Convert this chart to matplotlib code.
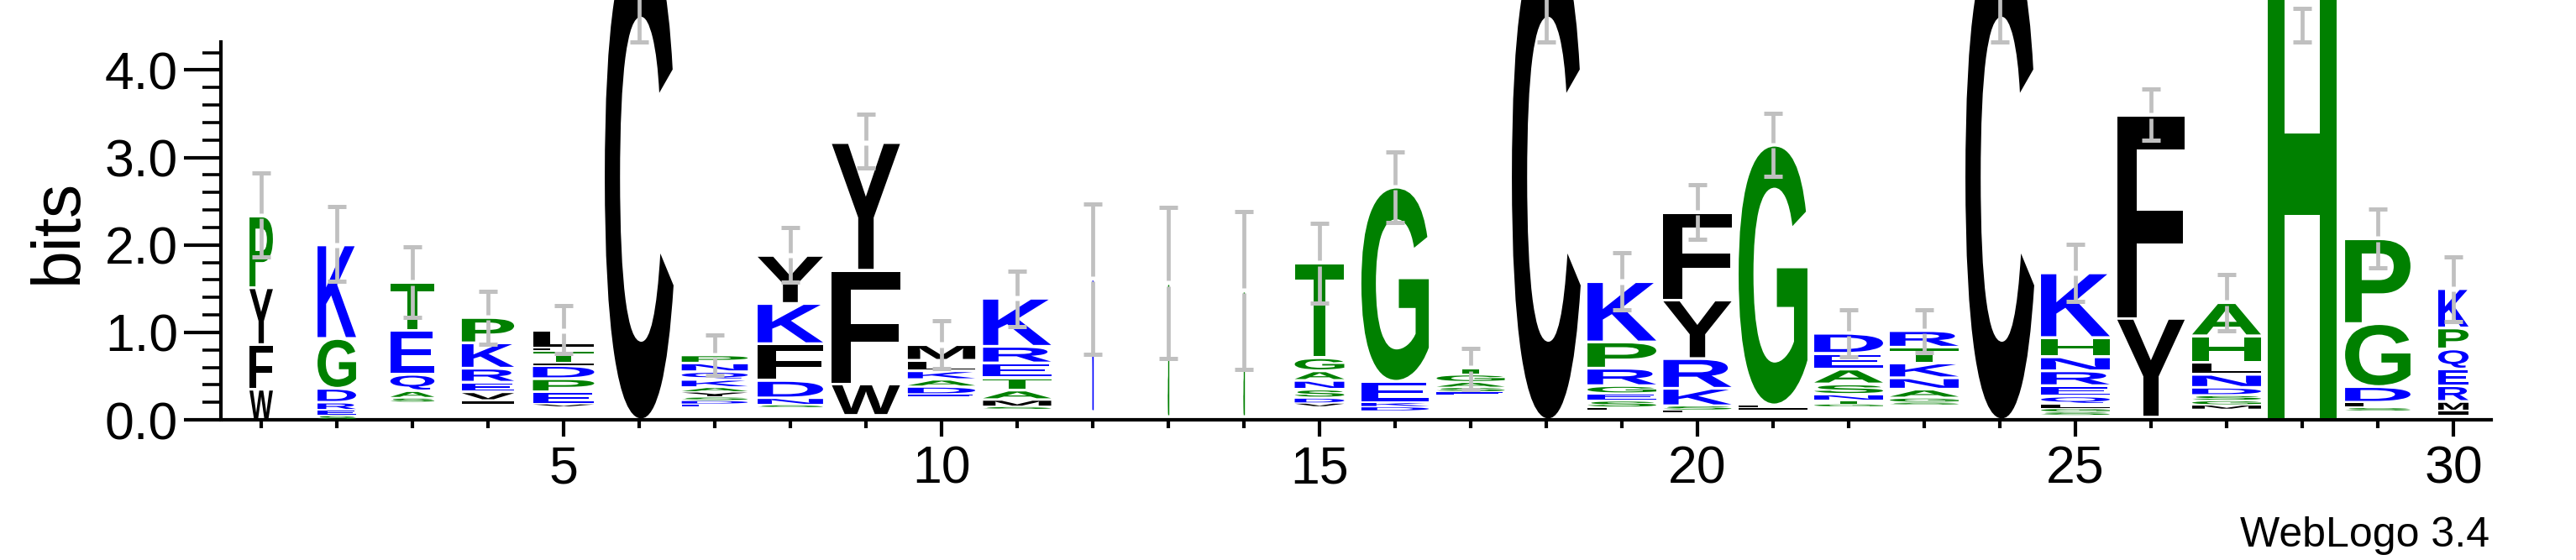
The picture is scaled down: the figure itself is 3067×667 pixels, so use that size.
import numpy as np
import matplotlib
matplotlib.use("Agg")
import matplotlib.pyplot as plt
from matplotlib.textpath import TextPath
from matplotlib.font_manager import FontProperties
from matplotlib.patches import PathPatch
from matplotlib.path import Path
from matplotlib.ticker import MultipleLocator, FormatStrFormatter

"###################### sequence logo data (bits, read off the WebLogo picture) ######################"
positions = list(range(1, 31))

# letters bottom -> top, one string per position
stack_letters = [
    "WFYP", "SERDGK", "SAQET", "IVERKP", "VEPDITFL", "C",
    "EDSYAKQNP", "SNDFKY", "WFY", "EDAKLM", "SMATERK", "K",
    "S", "S", "VDSNAGT", "DKEG", "ESAGT", "C",
    "LSEGRPK", "LSKRYF", "ILG", "GTNSAED", "SGANKTR", "C",
    "SGLQERNHK", "YF", "MGSDNLHA", "H", "SLDGP", "IMREQPK",
]
stack_heights = [
    [0.35, 0.51, 0.65, 0.82],
    [0.05, 0.06, 0.09, 0.16, 0.57, 1.07],
    [0.05, 0.08, 0.19, 0.50, 0.55],
    [0.04, 0.10, 0.11, 0.16, 0.29, 0.29],
    [0.03, 0.14, 0.15, 0.15, 0.03, 0.14, 0.03, 0.20],
    [5.50],
    [0.03, 0.04, 0.04, 0.06, 0.05, 0.09, 0.09, 0.10, 0.09],
    [0.03, 0.08, 0.20, 0.42, 0.46, 0.55],
    [0.36, 1.30, 1.46],
    [0.03, 0.09, 0.08, 0.10, 0.12, 0.18],
    [0.03, 0.08, 0.11, 0.14, 0.17, 0.19, 0.55],
    [1.51],
    [1.52],
    [1.44],
    [0.04, 0.06, 0.10, 0.10, 0.11, 0.15, 1.08],
    [0.05, 0.05, 0.24, 2.22],
    [0.04, 0.05, 0.06, 0.09, 0.07],
    [5.50],
    [0.03, 0.08, 0.08, 0.09, 0.20, 0.30, 0.69],
    [0.03, 0.05, 0.20, 0.34, 0.67, 1.00],
    [0.03, 0.03, 2.97],
    [0.03, 0.04, 0.07, 0.12, 0.17, 0.18, 0.23],
    [0.03, 0.05, 0.10, 0.13, 0.17, 0.18, 0.19],
    [5.50],
    [0.04, 0.04, 0.05, 0.09, 0.12, 0.17, 0.16, 0.22, 0.74],
    [1.13, 2.32],
    [0.05, 0.05, 0.06, 0.09, 0.15, 0.14, 0.30, 0.38],
    [5.45],
    [0.04, 0.06, 0.18, 0.72, 0.97],
    [0.05, 0.11, 0.18, 0.19, 0.23, 0.24, 0.45],
]
# empty space under each stack (letters too small to draw)
floors = [0.00, 0.00, 0.20, 0.18, 0.15, 0.00, 0.15, 0.14, 0.05, 0.26,
          0.12, 0.10, 0.04, 0.04, 0.15, 0.10, 0.28, 0.00, 0.11, 0.08,
          0.11, 0.15, 0.17, 0.00, 0.05, 0.03, 0.12, 0.00, 0.10, 0.05]
# fraction of non-gap symbols -> stack width
width_frac = [0.34, 0.56, 0.64, 0.76, 0.89, 1.00, 0.96, 0.95, 0.99, 0.98,
              0.99, 0.015, 0.015, 0.015, 0.72, 0.98, 0.99, 1.00, 1.00, 0.99,
              1.00, 1.00, 1.00, 1.00, 1.00, 0.98, 1.00, 1.00, 0.95, 0.44]
err_lo = [1.86, 1.58, 1.17, 0.86, 0.76, 4.32, 0.51, 1.57, 2.88, 0.59,
          1.07, 0.75, 0.70, 0.58, 1.33, 2.26, 0.35, 4.32, 1.26, 2.06,
          2.78, 0.72, 0.77, 4.32, 1.35, 3.20, 1.02, 4.32, 1.74, 1.12]
err_hi = [2.82, 2.44, 1.98, 1.47, 1.31, 6.70, 0.97, 2.20, 3.49, 1.13,
          1.70, 2.47, 2.43, 2.38, 2.25, 3.06, 0.82, 6.70, 1.91, 2.69,
          3.50, 1.26, 1.26, 6.70, 2.01, 3.78, 1.66, 4.70, 2.41, 1.86]

##hydrophobicity colour scheme
blue, green, black = "#0000ff", "#008000", "#000000"
colors = {}
for c in "RKDENQ":
    colors[c] = blue
for c in "SGHTAP":
    colors[c] = green
for c in "YVMCLFIW":
    colors[c] = black

##Plot customization
W, H = 3067, 667
font = "Liberation Sans"
tick_size = 45
label_size = 58
full_width = 0.91
errcolor = "#c0c0c0"

fp = FontProperties(family=font, weight="bold")


def draw_letter(ax, ch, x, y0, h, w, color):
    tp = TextPath((0, 0), ch, size=100, prop=fp)
    ext = tp.get_extents()
    pad = min(0.016, 0.15 * h)
    hh = h - 2 * pad
    v = tp.vertices.copy()
    v[:, 0] = x - w / 2 + (v[:, 0] - ext.x0) / ext.width * w
    v[:, 1] = y0 + pad + (v[:, 1] - ext.y0) / ext.height * hh
    patch = PathPatch(Path(v, tp.codes), facecolor=color, edgecolor="none",
                      lw=0, clip_on=False, zorder=3)
    ax.add_patch(patch)
    # very narrow stacks only show as a thin line
    if w < 0.05:
        ax.plot([x, x], [y0 + pad, y0 + h - pad], color=color, lw=1.0,
                solid_capstyle="butt", clip_on=False, zorder=3)


fig = plt.figure(figsize=(W / 100, H / 100), dpi=100)
ax = fig.add_axes([266 / W, 167 / H, 2700 / W, 450 / H])
ax.set_xlim(0.5, 30.5)
ax.set_ylim(0, 4.32)

tops = []
for i, pos in enumerate(positions):
    y = floors[i]
    w = full_width * width_frac[i]
    for ch, h in zip(stack_letters[i], stack_heights[i]):
        draw_letter(ax, ch, pos, y, h, w, colors[ch])
        y += h
    tops.append(y)

# error bars, with a small break where they cross the stack top
gap = 0.03
cap = 0.117
for i, pos in enumerate(positions):
    lo, hi, t = err_lo[i], err_hi[i], tops[i]
    if lo < t < hi:
        segs = [(lo, t - gap), (t + gap, hi)]
    else:
        segs = [(lo, hi)]
    for a, b in segs:
        ax.plot([pos, pos], [a, b], color=errcolor, lw=3.4,
                solid_capstyle="butt", clip_on=False, zorder=5)
    for e in (lo, hi):
        ax.plot([pos - cap, pos + cap], [e, e], color=errcolor, lw=3.6,
                solid_capstyle="butt", clip_on=False, zorder=5)

for s in ["top", "right"]:
    ax.spines[s].set_visible(False)
for s in ["left", "bottom"]:
    ax.spines[s].set_linewidth(3)
ax.spines["left"].set_position(("outward", 2.2))

ax.xaxis.set_major_locator(MultipleLocator(5))
ax.xaxis.set_minor_locator(MultipleLocator(1))
ax.yaxis.set_major_locator(MultipleLocator(1))
ax.yaxis.set_minor_locator(MultipleLocator(0.2))
ax.yaxis.set_major_formatter(FormatStrFormatter("%.1f"))

ax.tick_params(axis="y", which="major", length=31.7, width=3, pad=5)
ax.tick_params(axis="y", which="minor", length=16, width=2.6)
ax.tick_params(axis="x", which="major", length=14.5, width=3, pad=7)
ax.tick_params(axis="x", which="minor", length=7, width=3)
for lab in ax.get_xticklabels() + ax.get_yticklabels():
    lab.set_fontsize(tick_size)
    lab.set_family(font)

fig.text(70 / W, 1 - 275 / H, "bits", rotation=90, ha="center", va="center",
         fontsize=label_size, family=font)
fig.text(2964 / W, (H - 651) / H, "WebLogo 3.4", ha="right", va="baseline",
         fontsize=36, family=font)

fig.savefig("out.png", dpi=100)
